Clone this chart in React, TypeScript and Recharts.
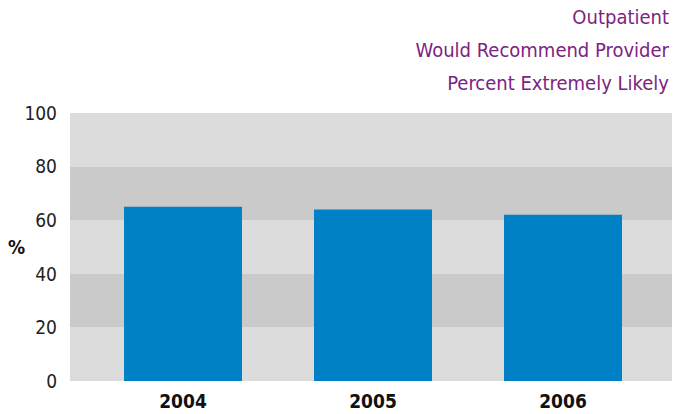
import { BarChart, Bar, XAxis, YAxis, CartesianGrid } from 'recharts'

const years = ['2004', '2005', '2006']
const likelyPct = [65, 64, 62]
const yTicks = [0, 20, 40, 60, 80, 100]
const titleLines = ['Outpatient', 'Would Recommend Provider', 'Percent Extremely Likely']

// alternating background bands, top to bottom
const bandFills = ['#dcdcdc', '#cacaca']

const FONT = '"DejaVu Sans Condensed", "Liberation Sans Narrow", "Liberation Sans", Arial, sans-serif'

const data = years.map((year, i) => ({ year, value: likelyPct[i] }))

export default function App() {
  return (
    <div style={{ position: 'absolute', left: 0, top: 0, width: 673, height: 414, background: '#fff', fontFamily: FONT }}>
      <div style={{ position: 'absolute', right: 4, top: 1, textAlign: 'right', color: '#7d2380', fontSize: 20, lineHeight: '33px' }}>
        {titleLines.map((line) => (
          <div key={line}>{line}</div>
        ))}
      </div>
      <BarChart
        width={673}
        height={414}
        data={data}
        margin={{ top: 113, right: 1, bottom: 0, left: 8 }}
        barCategoryGap={0}
      >
        <CartesianGrid
          vertical={false}
          stroke="transparent"
          horizontalFill={bandFills}
          fillOpacity={1}
        />
        <XAxis
          dataKey="year"
          axisLine={false}
          tickLine={false}
          height={33}
          tickMargin={8}
          padding={{ left: 18, right: 14 }}
          tick={{ fontFamily: FONT, fontSize: 19, fontWeight: 'bold', fill: '#111' }}
        />
        <YAxis
          domain={[0, 100]}
          ticks={yTicks}
          width={62}
          axisLine={false}
          tickLine={false}
          tickMargin={7}
          tick={{ fontFamily: FONT, fontSize: 19, fill: '#222' }}
          label={{ value: '%', position: 'insideLeft', offset: 0, angle: 0, style: { fontFamily: FONT, fontSize: 19, fontWeight: 'bold', fill: '#111' } }}
        />
        <Bar dataKey="value" fill="#0081c6" barSize={118} isAnimationActive={false} />
      </BarChart>
    </div>
  )
}
